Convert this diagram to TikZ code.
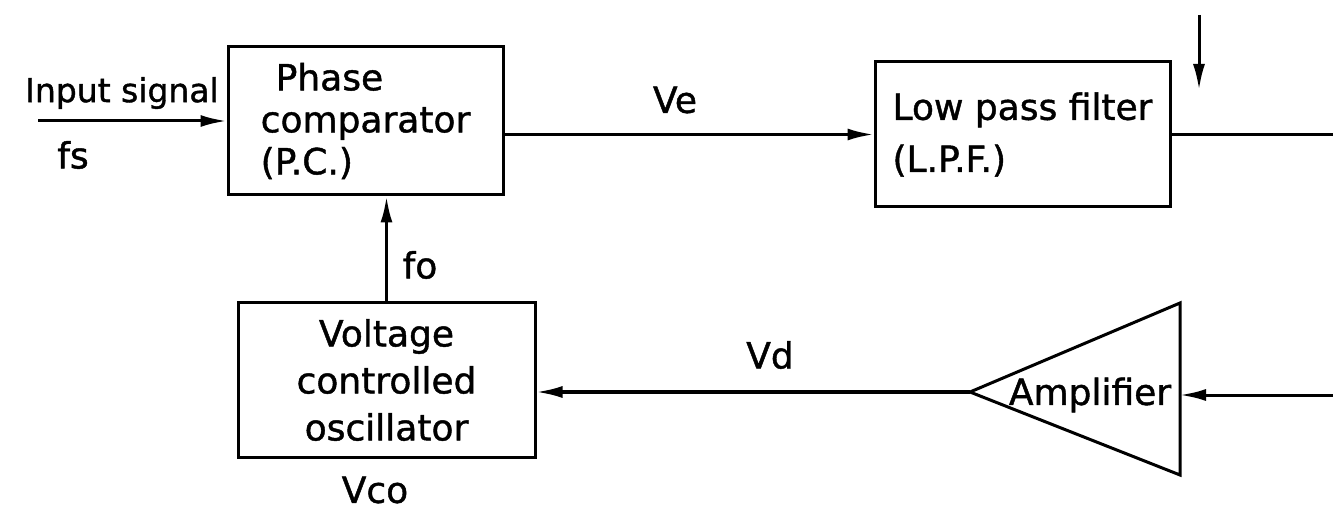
\documentclass[tikz,border=0pt]{standalone}
\usepackage{fontspec}
\setmainfont{DejaVu Sans}[BoldFont=DejaVu Sans, BoldFeatures={FakeBold=1.2}]
\usetikzlibrary{arrows.meta}
\begin{document}
\begin{tikzpicture}[x=1pt,y=-1pt,
  line width=3pt,
  every node/.style={font=\fontsize{36}{42}\selectfont\bfseries, inner sep=0pt},
  blk/.style={draw, rectangle, line width=3pt},
  arr/.style={-{Latex[length=26pt,width=12pt]}}]
\useasboundingbox (0,0) rectangle (1333,510);
% blocks
\node[blk, minimum width=275pt, minimum height=148pt, align=left] (pc) at (365.5,121)
  {\hspace{15pt}Phase\\comparator\\(P.C.)};
\node[blk, minimum width=295pt, minimum height=145pt, align=left] (lpf) at (1022.5,134.5)
  {Low pass filter\\[10pt](L.P.F.)};
\node[blk, minimum width=297pt, minimum height=154pt, align=center,
  font=\fontsize{36}{47}\selectfont\bfseries] (vco) at (386.5,380)
  {Voltage\\controlled\\oscillator};
% amplifier triangle
\coordinate (amptip) at (970,392);
\coordinate (amptop) at (1180,303);
\coordinate (ampbot) at (1180,475);
\coordinate (ampin) at (1180,395);
\draw[line join=miter] (amptip) -- (amptop) -- (ampbot) -- cycle;
\node (amp) at (1090,395) {Amplifier};
% free ends
\coordinate (in) at (38,121);
\coordinate (out) at (1333,134.5);
\coordinate (ampsrc) at (1333,395);
\coordinate (topA) at (1199,15);
\coordinate (topB) at (1199,90);
% connectors
\draw[arr] (in) -- (pc.west);
\draw[arr] (pc.east |- lpf.west) -- (lpf.west);
\draw (lpf.east) -- (out);
\draw[arr] (topA) -- (topB);
\draw[arr] (vco.north) -- (vco.north |- pc.south);
\draw[arr] (amptip) -- (amptip -| vco.east);
\draw[arr] (ampsrc) -- (ampin);
% labels
\node[font=\fontsize{33}{40}\selectfont\bfseries] (lin) at (122,93) {Input signal};
\node (lfs) at (73,155) {fs};
\node (lve) at (675,100) {Ve};
\node (lfo) at (420,265) {fo};
\node (lvd) at (770,355) {Vd};
\node (lvco) at (375,490) {Vco};
\end{tikzpicture}
\end{document}
